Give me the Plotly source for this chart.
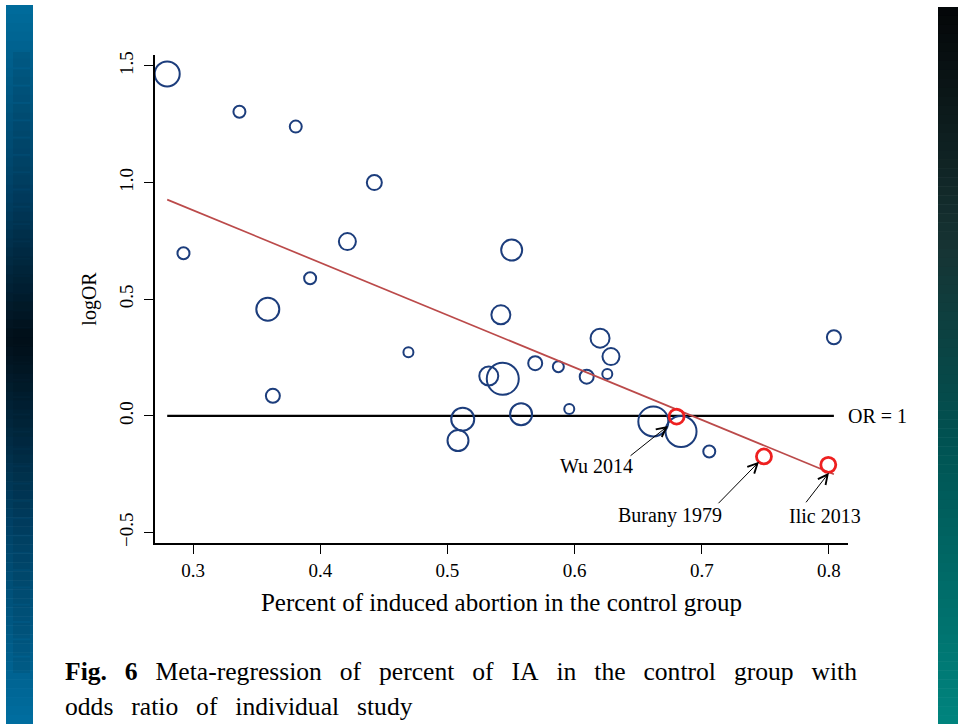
import plotly.graph_objects as go

# ---------------- data ----------------
pct_ia = [0.2796, 0.3364, 0.3807, 0.4425, 0.2924, 0.4213, 0.3920, 0.3587, 0.3627,
          0.5505, 0.5420, 0.4693, 0.5325, 0.5435, 0.5690, 0.5872, 0.6095, 0.6257,
          0.6200, 0.6286, 0.5120, 0.5083, 0.5579, 0.5958, 0.6619, 0.6837, 0.7059, 0.8039]
log_or = [1.466, 1.304, 1.240, 1.000, 0.697, 0.747, 0.590, 0.457, 0.086,
          0.711, 0.433, 0.273, 0.171, 0.159, 0.226, 0.211, 0.168, 0.179,
          0.333, 0.254, -0.014, -0.106, 0.007, 0.029, -0.024, -0.067, -0.153, 0.337]
study_weight = [25, 12, 12, 15, 12, 17, 12, 23, 14,
                21, 19, 10, 19, 32, 14, 11, 14, 10,
                19, 17, 23, 21, 22, 10, 30, 31, 12, 14]

highlight_names = ["Wu 2014", "Burany 1979", "Ilic 2013"]
highlight_pct = [0.6802, 0.7489, 0.7995]
highlight_logor = [-0.003, -0.174, -0.210]

reg_intercept = 1.555
reg_slope = -2.246

x_ticks = [0.3, 0.4, 0.5, 0.6, 0.7, 0.8]
y_ticks = [-0.5, 0.0, 0.5, 1.0, 1.5]

# ---------------- layout helpers ----------------
W, H = 958, 724
ML, MR, MT, MB = 155, 110, 55, 181
PW, PH = W - ML - MR, H - MT - MB


def px(x):
    return (x - ML) / PW


def py(y):
    return (H - MB - y) / PH


SERIF = "Liberation Serif, Times New Roman, serif"

fig = go.Figure()

xmin, xmax = min(pct_ia), max(pct_ia)

# OR = 1 reference line
fig.add_trace(go.Scatter(x=[xmin, xmax], y=[0, 0], mode="lines",
                         line=dict(color="black", width=2.2),
                         hoverinfo="skip", showlegend=False))

# study circles
fig.add_trace(go.Scatter(x=pct_ia, y=log_or, mode="markers",
                         marker=dict(size=study_weight, sizemode="diameter",
                                     color="rgba(0,0,0,0)", symbol="circle", opacity=1,
                                     line=dict(color="#1c3d7c", width=2)),
                         showlegend=False))

# regression line
fig.add_trace(go.Scatter(x=[xmin, xmax],
                         y=[reg_intercept + reg_slope * xmin, reg_intercept + reg_slope * xmax],
                         mode="lines", line=dict(color="#bb4a4a", width=1.7),
                         showlegend=False))

# highlighted studies
fig.add_trace(go.Scatter(x=highlight_pct, y=highlight_logor, mode="markers",
                         marker=dict(size=15, color="rgba(0,0,0,0)",
                                     line=dict(color="#ee2020", width=2.8)),
                         showlegend=False))

# annotations
label_pos = [(0.6176, -0.214), (0.675, -0.429), (0.797, -0.429)]
arrow_tail = [(0.6428, -0.176), (0.712, -0.381), (0.7811, -0.377)]
arrow_head = [(0.6734, -0.043), (0.745, -0.197), (0.800, -0.244)]
for name, (lx, ly), (tx, ty), (hx, hy) in zip(highlight_names, label_pos, arrow_tail, arrow_head):
    fig.add_annotation(x=hx, y=hy, ax=tx, ay=ty, xref="x", yref="y", axref="x", ayref="y",
                       text="", showarrow=True, arrowhead=5, arrowsize=1.9, arrowwidth=1,
                       arrowcolor="black", standoff=0, startstandoff=0)
    fig.add_annotation(x=lx, y=ly, xref="x", yref="y", text=name, showarrow=False,
                       font=dict(family=SERIF, size=20, color="black"))

fig.add_annotation(x=xmax + 0.0095, y=0, xref="x", yref="y", text="OR = 1", showarrow=False,
                   xanchor="left", yanchor="middle",
                   font=dict(family=SERIF, size=20, color="black"))

# caption (justified look via extra word spacing)
sp = "&nbsp;&#8201; "
cap1 = sp.join(["<b>Fig.", "6</b>", "Meta-regression", "of", "percent", "of", "IA", "in",
                "the", "control", "group", "with"])
cap2 = sp.join(["odds", "ratio", "of", "individual", "study"])
fig.add_annotation(x=px(63), y=py(671), xref="paper", yref="paper", xanchor="left",
                   yanchor="middle", showarrow=False, align="left", text=cap1,
                   font=dict(family=SERIF, size=25.6, color="black"))
fig.add_annotation(x=px(63), y=py(706), xref="paper", yref="paper", xanchor="left",
                   yanchor="middle", showarrow=False, align="left", text=cap2,
                   font=dict(family=SERIF, size=25.6, color="black"))

# ---------------- decorative side strips ----------------
shapes = []


def lerp(c1, c2, t):
    return tuple(int(round(a + (b - a) * t)) for a, b in zip(c1, c2))


def grad_color(y, stops):
    for (y0, c0), (y1, c1) in zip(stops, stops[1:]):
        if y0 <= y <= y1:
            return lerp(c0, c1, (y - y0) / (y1 - y0))
    return stops[-1][1]


left_stops = [(5, (0, 108, 156)), (200, (0, 62, 98)), (340, (2, 16, 26)),
              (520, (0, 64, 100)), (724, (0, 110, 160))]
right_stops = [(7, (4, 6, 8)), (250, (22, 52, 52)), (440, (0, 82, 82)), (724, (0, 132, 126))]

n = 80
for i in range(n):
    y0 = 5 + (H - 5) * i / n
    y1 = 5 + (H - 5) * (i + 1) / n + 0.6
    ym = (y0 + y1) / 2
    c = grad_color(ym, left_stops)
    shapes.append(dict(type="rect", xref="paper", yref="paper", layer="below",
                       x0=px(6), x1=px(33), y0=py(y1), y1=py(y0),
                       fillcolor="rgb(%d,%d,%d)" % c, line=dict(width=0)))
    y0r = 7 + (H - 7) * i / n
    y1r = 7 + (H - 7) * (i + 1) / n + 0.6
    c = grad_color((y0r + y1r) / 2, right_stops)
    shapes.append(dict(type="rect", xref="paper", yref="paper", layer="below",
                       x0=px(938), x1=px(958), y0=py(y1r), y1=py(y0r),
                       fillcolor="rgb(%d,%d,%d)" % c, line=dict(width=0)))

# faint square tiles on the left strip
yy = 52
while yy < 660:
    shapes.append(dict(type="rect", xref="paper", yref="paper", layer="below",
                       x0=px(13), x1=px(30), y0=py(yy + 15.5), y1=py(yy),
                       fillcolor="rgba(0,0,0,0.07)", line=dict(width=0)))
    yy += 17.3

fig.update_layout(
    width=W, height=H,
    margin=dict(l=ML, r=MR, t=MT, b=MB),
    paper_bgcolor="white", plot_bgcolor="white",
    shapes=shapes,
    showlegend=False,
    xaxis=dict(range=[0.27, 0.815], tickvals=x_ticks, tickformat=".1f",
               showgrid=False, zeroline=False, showline=True, linecolor="black", linewidth=1.6,
               ticks="outside", ticklen=9, tickwidth=1.4, tickcolor="black",
               tickfont=dict(family=SERIF, size=19, color="black"),
               title=dict(text="Percent of induced abortion in the control group",
                          font=dict(family=SERIF, size=25, color="black"), standoff=14)),
    yaxis=dict(range=[-0.545, 1.547], tickvals=y_ticks, tickformat=".1f",
               showgrid=False, zeroline=False, showline=True, linecolor="black", linewidth=1.6,
               ticks="outside", ticklen=9, tickwidth=1.4, tickcolor="black", tickangle=-90,
               ticklabelstandoff=4,
               tickfont=dict(family=SERIF, size=19, color="black"),
               title=dict(text="logOR", font=dict(family=SERIF, size=20, color="black"),
                          standoff=14)),
)

fig.write_html("out.html",
               config={"displayModeBar": False},
               post_script="document.body.style.margin='0px';"
                           "document.body.style.overflow='hidden';")
